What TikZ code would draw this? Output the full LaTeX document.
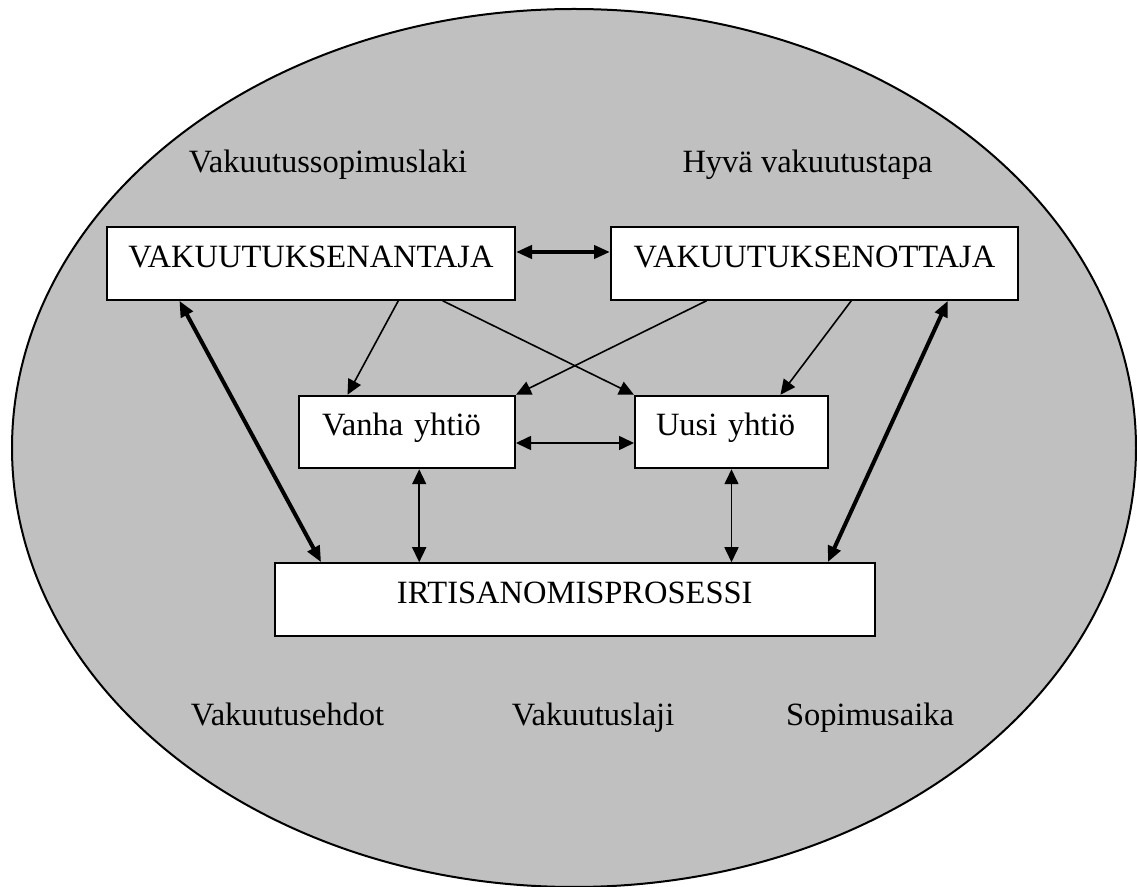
\documentclass[tikz,border=0pt]{standalone}
\usepackage{fontspec}
\setmainfont{Liberation Serif}
\usetikzlibrary{arrows.meta,calc}
\definecolor{harmaa}{RGB}{192,192,192}

\begin{document}
\begin{tikzpicture}[x=0.5pt,y=-0.5pt,
        every node/.style={font=\fontsize{16.25}{19}\selectfont},
        laatikko/.style={draw=black,line width=1pt,fill=white,inner ysep=0pt,text height=20pt,text depth=16.25pt},
        ohut/.style={line width=0.8pt,-{Triangle[length=7.5pt,width=7pt]}},
        ohut2/.style={line width=0.8pt,{Triangle[length=7.5pt,width=7pt]}-{Triangle[length=7.5pt,width=7pt]}},
        paksu2/.style={line width=2pt,{Triangle[length=8pt,width=6.5pt]}-{Triangle[length=8pt,width=6.5pt]}}]
        \useasboundingbox (0,0) rectangle (1137,887);
        \draw[line width=1pt,fill=harmaa] (574,448) ellipse [x radius=281pt,y radius=219.5pt];
        \node[anchor=base] (laki) at (328,173) {Vakuutussopimuslaki};
        \node[anchor=base] (tapa) at (807.5,173) {Hyvä vakuutustapa};
        \node[laatikko,minimum width=204pt] (antaja) at (311,263.5) {VAKUUTUKSENANTAJA};
        \node[laatikko,minimum width=203.5pt] (ottaja) at (814.5,263.5) {VAKUUTUKSENOTTAJA};
        \node[laatikko,inner xsep=11.5pt,text width=85pt,align=left] (vanha) at (407,432) {Vanha yhtiö};
        \node[laatikko,inner xsep=10.5pt,text width=75.5pt,align=left] (uusi) at (731.5,432) {Uusi yhtiö};
        \node[laatikko,minimum width=300.25pt] (irtis) at (574.75,599.5) {IRTISANOMISPROSESSI};
        \node[anchor=base] (ehdot) at (287.5,726) {Vakuutusehdot};
        \node[anchor=base] (laji) at (593,726) {Vakuutuslaji};
        \node[anchor=base] (aika) at (870,726) {Sopimusaika};
        \coordinate (v) at ($(vanha.south west)!0.556!(vanha.south east)$);
        \draw[paksu2] ($(antaja.east)+(0,-11.5)$) -- ($(ottaja.west)+(0,-11.5)$);
        \draw[ohut] ($(antaja.south west)!0.713!(antaja.south east)$) -- ($(vanha.north west)!0.227!(vanha.north east)$);
        \draw[ohut] ($(antaja.south west)!0.821!(antaja.south east)$) -- (uusi.north west);
        \draw[ohut] ($(ottaja.south west)!0.236!(ottaja.south east)$) -- (vanha.north east);
        \draw[ohut] ($(ottaja.south west)!0.59!(ottaja.south east)$) -- ($(uusi.north west)!0.751!(uusi.north east)$);
        \draw[paksu2] ($(antaja.south west)!0.179!(antaja.south east)$) -- ($(irtis.north west)!0.079!(irtis.north east)$);
        \draw[paksu2] ($(ottaja.south west)!0.826!(ottaja.south east)$) -- ($(irtis.north west)!0.92!(irtis.north east)$);
        \draw[ohut2] ($(vanha.east)+(0,11)$) -- ($(uusi.west)+(0,11)$);
        \draw[ohut2] (v) -- (v |- irtis.north);
        \draw[ohut2] (uusi.south) -- (uusi.south |- irtis.north);
    \end{tikzpicture}
\end{document}
